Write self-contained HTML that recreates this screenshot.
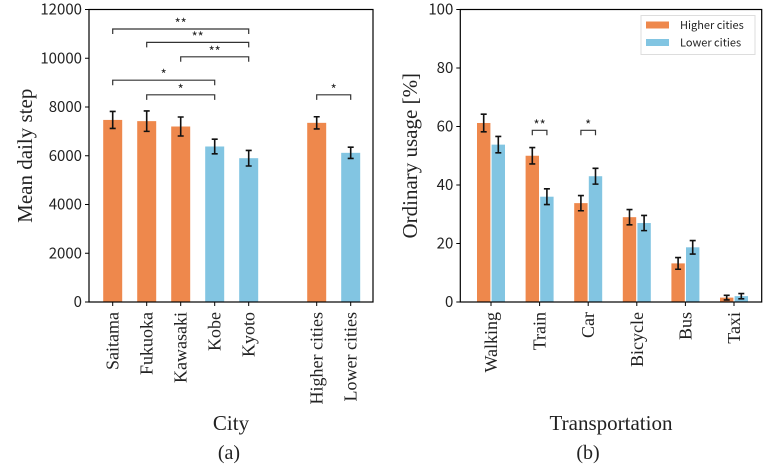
<!DOCTYPE html>
<html><head><meta charset="utf-8"><style>
body{margin:0;background:#fff;}
svg text{fill:#222;}
.sans{font-family:"Noto Sans CJK JP","Liberation Sans",sans-serif;font-size:15px;}
.serif{font-family:"Liberation Serif",serif;font-size:17px;}
</style></head><body>
<svg id="c" width="777" height="466" xmlns="http://www.w3.org/2000/svg"></svg>
<script>
const cities=["Saitama","Fukuoka","Kawasaki","Kobe","Kyoto","Higher cities","Lower cities"];
const cityPos=[0,1,2,3,4,6,7];
const cityGroup=["h","h","h","l","l","h","l"];
const cityVals=[7470,7420,7200,6380,5900,7350,6120];
const cityErr=[350,420,390,300,320,250,230];
const cityTicks=[0,2000,4000,6000,8000,10000,12000];
const cityBrackets=[[0,4,11200,"**"],[1,4,10650,"**"],[2,4,10060,"**"],[0,3,9100,"*"],[1,3,8500,"*"],[5,6,8500,"*"]];
const modes=["Walking","Train","Car","Bicycle","Bus","Taxi"];
const highVals=[61.2,50,33.8,29,13.2,1.5];
const highErr=[3,2.8,2.6,2.6,2,0.8];
const lowVals=[53.8,36,43,27,18.7,2];
const lowErr=[2.8,2.7,2.7,2.6,2.3,0.9];
const modeTicks=[0,20,40,60,80,100];
const modeBrackets=[[1,58.7,"**"],[2,58.7,"*"]];

const NS="http://www.w3.org/2000/svg";const svg=document.getElementById('c');
const OR="#ee884c",BL="#82c5e2";
function mk(t,a,txt){const e=document.createElementNS(NS,t);for(const k in a)e.setAttribute(k,a[k]);if(txt!==undefined)e.textContent=txt;svg.appendChild(e);return e;}
// ---- panel a
const ax={l:89,r:373,t:9.5,b:302};
const ya=v=>ax.b-(v/12000)*(ax.b-ax.t);
const xa=i=>112.7+i*34;
cityTicks.forEach(v=>{let t=mk('line',{x1:ax.l-4,x2:ax.l,y1:ya(v),y2:ya(v),stroke:'#000'});
let l=mk('text',{x:ax.l-7,y:ya(v)+5,'text-anchor':'end',class:'sans'},v);});
cities.forEach((c,i)=>{const x=xa(cityPos[i]);
let b=mk('rect',{x:x-9.5,y:ya(cityVals[i]),width:19,height:ya(0)-ya(cityVals[i]),fill:cityGroup[i]=="h"?OR:BL});
const y1=ya(cityVals[i]+cityErr[i]),y2=ya(cityVals[i]-cityErr[i]);
let e=mk('path',{d:`M${x},${y1}V${y2}M${x-3},${y1}H${x+3}M${x-3},${y2}H${x+3}`,stroke:'#111','stroke-width':1.6,fill:'none'});
let t=mk('line',{x1:x,x2:x,y1:ax.b,y2:ax.b+4,stroke:'#000'});
let l=mk('text',{transform:`translate(${x+6},${ax.b+10}) rotate(-90)`,'text-anchor':'end',class:'serif',style:'font-size:18px'},c);});
cityBrackets.forEach(([a,b,v,s])=>{const x1=xa(cityPos[a]),x2=xa(cityPos[b]),y=ya(v);
let p=mk('path',{d:`M${x1},${y+5}V${y}H${x2}V${y+5}`,stroke:'#333','stroke-width':1.2,fill:'none'});
let t=mk('text',{x:(x1+x2)/2,y:y-1,'text-anchor':'middle',class:'sans',style:'font-size:13px'},s);});
let f=mk('rect',{x:ax.l,y:ax.t,width:ax.r-ax.l,height:ax.b-ax.t,fill:'none',stroke:'#000','stroke-width':1.2});
let yt=mk('text',{transform:`translate(32,${(ax.t+ax.b)/2}) rotate(-90)`,'text-anchor':'middle',class:'serif',style:'font-size:21px'},'Mean daily step');
let xt=mk('text',{x:(ax.l+ax.r)/2,y:430,'text-anchor':'middle',class:'serif',style:'font-size:21px'},'City');
let ca=mk('text',{x:(ax.l+ax.r)/2-2,y:459,'text-anchor':'middle',class:'serif',style:'font-size:20px'},'(a)');
// ---- panel b
const bx={l:460.3,r:761.7,t:9.5,b:302};
const yb=v=>bx.b-(v/100)*(bx.b-bx.t);
const xb=i=>491+i*48.6;
modeTicks.forEach(v=>{let t=mk('line',{x1:bx.l-4,x2:bx.l,y1:yb(v),y2:yb(v),stroke:'#000'});
let l=mk('text',{x:bx.l-7,y:yb(v)+5,'text-anchor':'end',class:'sans'},v);});
modes.forEach((m,i)=>{const c=xb(i);
[[highVals,highErr,OR,-7.3,'higher'],[lowVals,lowErr,BL,7.3,'lower']].forEach(([vs,es,col,off,nm])=>{const x=c+off;
let b=mk('rect',{x:x-6.7,y:yb(vs[i]),width:13.4,height:yb(0)-yb(vs[i]),fill:col});
const y1=yb(vs[i]+es[i]),y2=yb(vs[i]-es[i]);
let e=mk('path',{d:`M${x},${y1}V${y2}M${x-3},${y1}H${x+3}M${x-3},${y2}H${x+3}`,stroke:'#111','stroke-width':1.6,fill:'none'});});
let t=mk('line',{x1:c,x2:c,y1:bx.b,y2:bx.b+4,stroke:'#000'});
let l=mk('text',{transform:`translate(${c+6},${bx.b+10}) rotate(-90)`,'text-anchor':'end',class:'serif',style:'font-size:18px'},m);});
modeBrackets.forEach(([i,v,s])=>{const x1=xb(i)-7.3,x2=xb(i)+7.3,y=yb(v);
let p=mk('path',{d:`M${x1},${y+5}V${y}H${x2}V${y+5}`,stroke:'#333','stroke-width':1.2,fill:'none'});
let t=mk('text',{x:(x1+x2)/2,y:y-1,'text-anchor':'middle',class:'sans',style:'font-size:13px'},s);});
let f2=mk('rect',{x:bx.l,y:bx.t,width:bx.r-bx.l,height:bx.b-bx.t,fill:'none',stroke:'#000','stroke-width':1.2});
let lg=mk('rect',{x:641,y:15.5,width:114,height:39,fill:'#fff',stroke:'#ddd'});
[[OR,'Higher cities',25],[BL,'Lower cities',42.5]].forEach(([col,t,y])=>{let r=mk('rect',{x:646,y:y-3.5,width:23,height:7,fill:col});
let tx=mk('text',{x:680,y:y+4,class:'sans',style:'font-size:11px'},t);});
let yt2=mk('text',{transform:`translate(417,${(bx.t+bx.b)/2}) rotate(-90)`,'text-anchor':'middle',class:'serif',style:'font-size:21px'},'Ordinary usage [%]');
let xt2=mk('text',{x:(bx.l+bx.r)/2,y:430,'text-anchor':'middle',class:'serif',style:'font-size:21px'},'Transportation');
let cb=mk('text',{x:(bx.l+bx.r)/2-23,y:459,'text-anchor':'middle',class:'serif',style:'font-size:20px'},'(b)');
</script>
</body></html>
